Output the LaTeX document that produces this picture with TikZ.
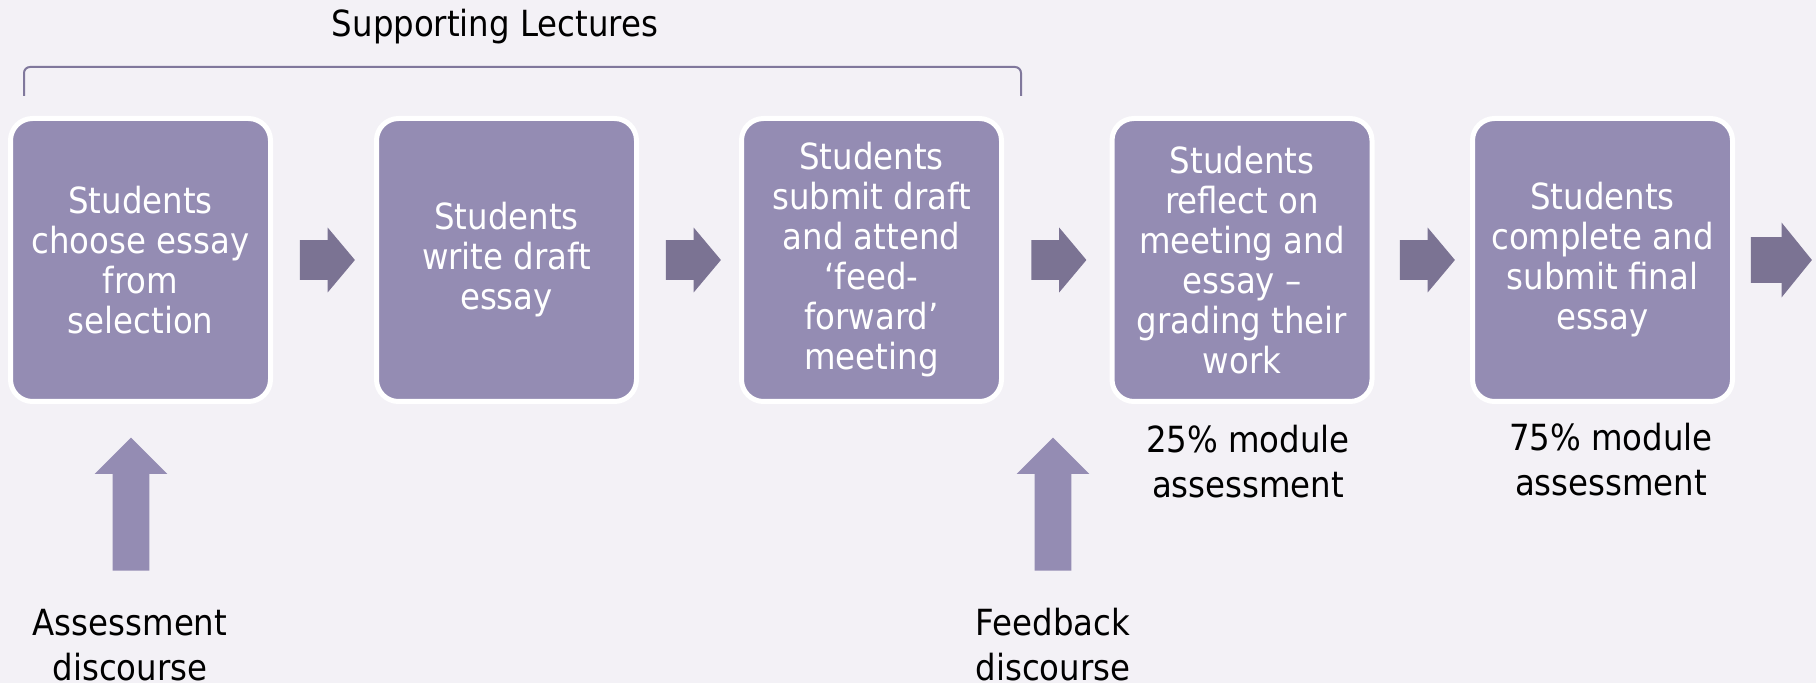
\documentclass[tikz,border=0pt]{standalone}
\usepackage{fontspec}
\setmainfont{DejaVu Sans Condensed}
\usetikzlibrary{shapes.arrows}
\definecolor{bgcol}{RGB}{243,241,246}
\definecolor{boxcol}{RGB}{148,140,179}
\definecolor{arrcol}{RGB}{123,115,147}
\definecolor{linecol}{RGB}{128,120,156}
\begin{document}
\begin{tikzpicture}[x=0.5pt,y=-0.5pt, font=\fontsize{18}{20}\selectfont, line join=round,
	stepbox/.style={rounded corners=11pt, fill=boxcol, draw=white, line width=2.5pt, minimum width=130pt, minimum height=141.5pt, align=center, text=white, inner sep=0pt},
	rarrow/.style={single arrow, anchor=west, fill=arrcol, minimum height=27.5pt, inner xsep=0pt, inner ysep=9.75pt, single arrow head extend=6.25pt, single arrow tip angle=100},
	uarrow/.style={single arrow, rotate=90, anchor=west, fill=boxcol, minimum height=66.5pt, inner xsep=0pt, inner ysep=9pt, single arrow head extend=9pt, single arrow tip angle=90},
	note/.style={align=center, font=\fontsize{18}{22.5}\selectfont, inner sep=0pt}]
		\useasboundingbox (0,0) rectangle (1816,683);
		\fill[bgcol] (0,0) rectangle (1816,683);
		% Kästen
		\node[stepbox] (s1) at (140.5,260) {Students\\choose essay\\from\\selection};
		\node[stepbox] (s2) at (506.5,260) {Students\\write draft\\essay};
		\node[stepbox] (s3) at (871.5,260) {Students\\submit draft\\and attend\\‘feed-\\forward’\\meeting};
		\node[stepbox] (s4) at (1242,260) {Students\\reflect on\\meeting and\\essay --\\grading their\\work};
		\node[stepbox] (s5) at (1602.5,260) {Students\\complete and\\submit final\\essay};
		% Pfeile
		\node[rarrow] (a1) at ([xshift=13.25pt]s1.east) {};
		\node[rarrow] (a2) at ([xshift=13.25pt]s2.east) {};
		\node[rarrow] (a3) at ([xshift=13.5pt]s3.east) {};
		\node[rarrow] (a4) at ([xshift=12.5pt]s4.east) {};
		\node[rarrow, minimum height=30.5pt, inner ysep=11.25pt, single arrow head extend=7.25pt, single arrow tip angle=102] (a5) at ([xshift=7.75pt]s5.east) {};
		\node[uarrow] (u1) at (131,571) {};
		\node[uarrow] (u2) at (1053,571) {};
		% Texte
		\node (lec) at (495,27) {Supporting Lectures};
		\draw[linecol, line width=1pt, rounded corners=3pt] (24,96) -- (24,67) -- (1021,67) -- (1021,96);
		\node[note] (n1) at (130,645) {Assessment\\discourse};
		\node[note] (n2) at (1053,645) {Feedback\\discourse};
		\node[note] (n3) at (1248,461.5) {25\% module\\assessment};
		\node[note] (n4) at (1611,460) {75\% module\\assessment};
\end{tikzpicture}
\end{document}
